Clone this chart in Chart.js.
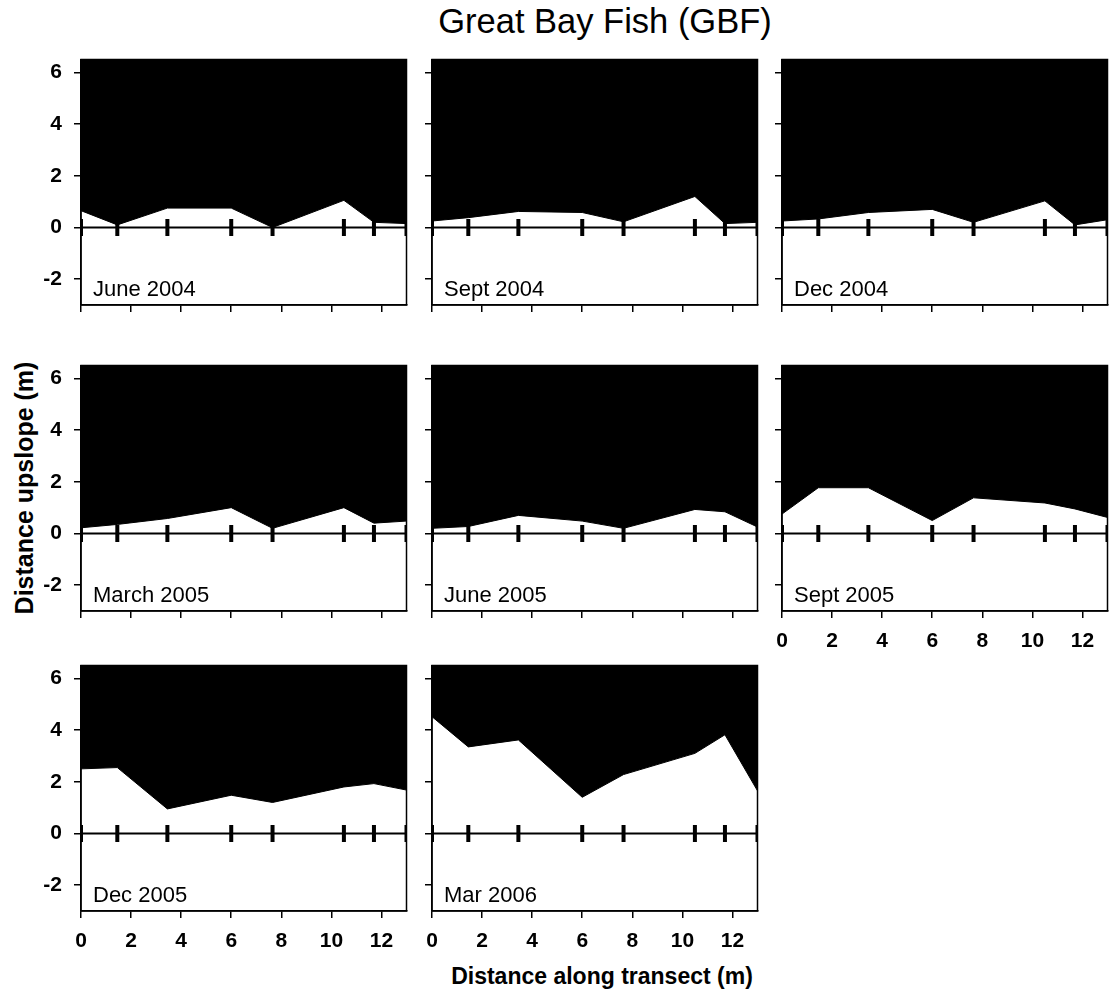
<!DOCTYPE html>
<html><head><meta charset="utf-8">
<script src="https://cdn.jsdelivr.net/npm/chart.js@4.4.1/dist/chart.umd.min.js"></script>
<style>
body{margin:0;background:#fff;width:1114px;height:991px;position:relative;overflow:hidden;font-family:"Liberation Sans",Arial,sans-serif}
canvas{position:absolute}
.t{position:absolute;white-space:nowrap;color:#000}
</style></head><body>
<div class="t" style="left:355px;width:500px;text-align:center;top:4px;font-size:34.5px;line-height:34px">Great Bay Fish (GBF)</div>
<div class="t" style="left:352px;width:500px;text-align:center;top:964px;font-size:23px;line-height:24px;font-weight:bold">Distance along transect (m)</div>
<div class="t" style="left:24px;top:488px;font-size:25px;line-height:26px;font-weight:bold;transform:translate(-50%,-50%) rotate(-90deg)">Distance upslope (m)</div>
<script>
// Data
const stations = [0, 1.45, 3.45, 6, 7.65, 10.5, 11.7, 13];
const panelNames = ["June 2004", "Sept 2004", "Dec 2004", "March 2005", "June 2005", "Sept 2005", "Dec 2005", "Mar 2006"];
const june2004  = [0.65, 0.1, 0.75, 0.75, 0.0, 1.05, 0.2, 0.15];
const sept2004  = [0.25, 0.38, 0.62, 0.58, 0.22, 1.2, 0.15, 0.2];
const dec2004   = [0.25, 0.33, 0.58, 0.7, 0.2, 1.03, 0.1, 0.3];
const march2005 = [0.22, 0.35, 0.58, 1.0, 0.2, 1.0, 0.4, 0.48];
const june2005  = [0.2, 0.27, 0.7, 0.48, 0.2, 0.93, 0.84, 0.25];
const sept2005  = [0.75, 1.77, 1.77, 0.5, 1.38, 1.18, 0.95, 0.62];
const dec2005   = [2.5, 2.55, 0.95, 1.48, 1.2, 1.8, 1.93, 1.68];
const mar2006   = [4.52, 3.35, 3.62, 1.4, 2.28, 3.1, 3.82, 1.65];
const xTicks = [0, 2, 4, 6, 8, 10, 12];
const yTicks = [-2, 0, 2, 4, 6];

const series = [june2004, sept2004, dec2004, march2005, june2005, sept2005, dec2005, mar2006];

// Layout
const colLeft = [81, 432, 782];
const rowTop = [57, 363, 663];
const W = 330, H = 248;
const PADL = 70, PADT = 10, PADR = 8, PADB = 45;
const FONT = '"Liberation Sans", Arial, sans-serif';

function noPad(s) { s.paddingLeft = 0; s.paddingRight = 0; s.paddingTop = 0; s.paddingBottom = 0; }

const framePlugin = {
  id: 'frame',
  afterDatasetsDraw(chart, args, opts) {
    const a = chart.chartArea, ctx = chart.ctx;
    ctx.save();
    ctx.strokeStyle = '#000';
    ctx.lineWidth = 1.5;
    ctx.strokeRect(a.left, a.top, a.right - a.left, a.bottom - a.top);
    ctx.font = '22px ' + FONT;
    ctx.fillStyle = '#000';
    ctx.textBaseline = 'alphabetic';
    ctx.textAlign = 'left';
    ctx.fillText(opts.label, a.left + 12, a.bottom - 9);
    ctx.restore();
  }
};

series.forEach((vals, i) => {
  const col = i % 3, row = Math.floor(i / 3);
  const showX = (i >= 5);
  const showY = (col === 0);
  const cv = document.createElement('canvas');
  const cw = PADL + W + PADR, ch = PADT + H + PADB;
  cv.width = cw; cv.height = ch;
  cv.style.width = cw + 'px'; cv.style.height = ch + 'px';
  cv.style.left = (colLeft[col] - PADL) + 'px';
  cv.style.top = (rowTop[row] - PADT) + 'px';
  document.body.appendChild(cv);
  new Chart(cv, {
    type: 'scatter',
    data: {
      datasets: [
        {
          data: stations.map(x => ({x: x, y: 0})),
          showLine: true,
          borderColor: '#000',
          borderWidth: 2,
          pointStyle: 'line',
          rotation: 90,
          pointRadius: 8.5,
          pointBorderWidth: 4,
          pointBorderColor: '#000',
          pointBackgroundColor: '#000',
          order: 0,
          clip: 0
        },
        {
          data: stations.map((x, k) => ({x: x, y: vals[k]})),
          showLine: true,
          fill: 'end',
          backgroundColor: '#000',
          borderColor: '#000',
          borderWidth: 1,
          pointRadius: 0,
          tension: 0,
          order: 1
        }
      ]
    },
    options: {
      responsive: false,
      animation: false,
      devicePixelRatio: 1,
      layout: {padding: {left: 0, top: PADT, right: PADR, bottom: 0}},
      plugins: {legend: {display: false}, tooltip: {enabled: false}, frame: {label: panelNames[i]}},
      scales: {
        x: {
          type: 'linear', min: 0, max: 13,
          afterBuildTicks: s => { s.ticks = xTicks.map(v => ({value: v})); },
          afterFit: s => { s.height = PADB; noPad(s); },
          grid: {display: true, drawOnChartArea: false, drawTicks: true, tickLength: 7, color: '#000', lineWidth: 1.5},
          border: {display: true, color: '#000', width: 1.5},
          ticks: {display: showX, color: '#000', padding: 11, maxRotation: 0, font: {family: FONT, size: 21, weight: 'bold'}}
        },
        y: {
          type: 'linear', min: -3, max: 6.5,
          afterBuildTicks: s => { s.ticks = yTicks.map(v => ({value: v})); },
          afterFit: s => { s.width = PADL; noPad(s); },
          grid: {display: true, drawOnChartArea: false, drawTicks: true, tickLength: 7, color: '#000', lineWidth: 1.5},
          border: {display: true, color: '#000', width: 1.5},
          ticks: {display: showY, color: '#000', padding: 12, font: {family: FONT, size: 21, weight: 'bold'}}
        }
      }
    },
    plugins: [framePlugin]
  });
});
</script>
</body></html>
